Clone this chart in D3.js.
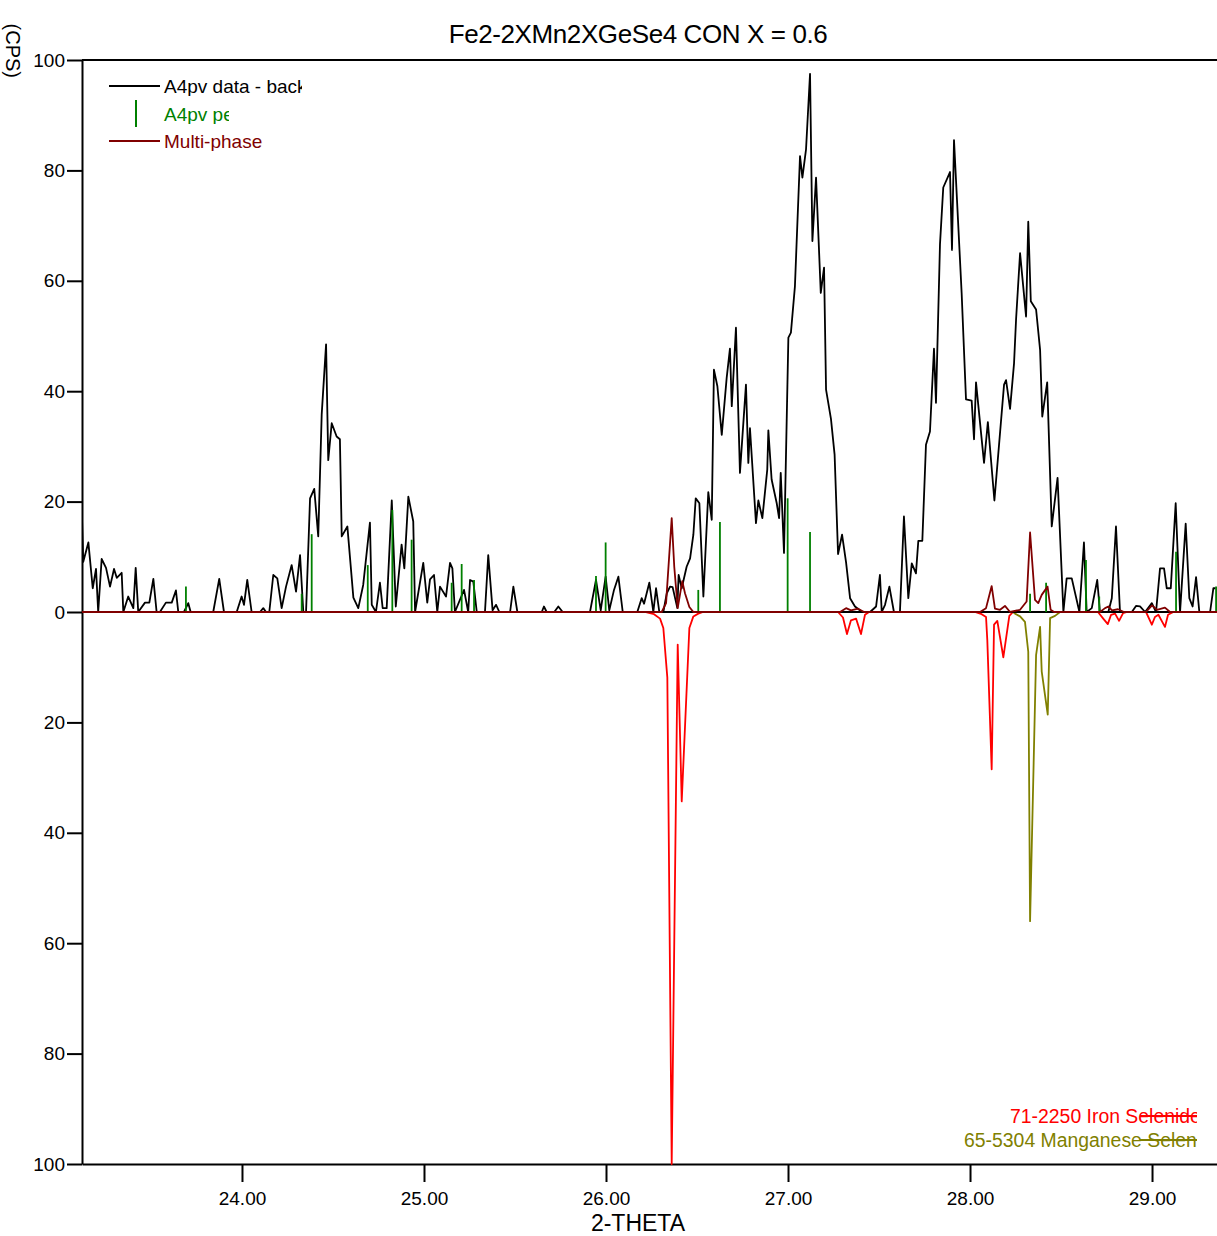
<!DOCTYPE html>
<html>
<head>
<meta charset="utf-8">
<script src="https://cdn.jsdelivr.net/npm/d3@7/dist/d3.min.js"></script>
<style>
  body { margin: 0; background: #fff; }
  svg { display: block; font-family: "Liberation Sans", Arial, sans-serif; }
</style>
</head>
<body>
<div id="chart"></div>
<script>
// measured pattern: A4pv data - background
const dataTheta = [23.121,23.128,23.156,23.180,23.198,23.210,23.229,23.253,23.275,23.297,23.312,23.339,23.348,23.375,23.403,23.416,23.430,23.467,23.491,23.513,23.531,23.549,23.582,23.614,23.637,23.650,23.681,23.705,23.718,23.842,23.875,23.901,23.971,23.998,24.011,24.029,24.053,24.099,24.117,24.132,24.150,24.172,24.194,24.218,24.242,24.273,24.297,24.319,24.337,24.352,24.374,24.397,24.419,24.438,24.462,24.474,24.493,24.520,24.538,24.548,24.579,24.612,24.639,24.666,24.703,24.713,24.736,24.758,24.773,24.795,24.823,24.845,24.877,24.892,24.914,24.941,24.951,24.996,25.018,25.033,25.055,25.073,25.088,25.121,25.143,25.156,25.170,25.220,25.243,25.253,25.271,25.290,25.335,25.353,25.377,25.396,25.414,25.473,25.491,25.513,25.647,25.659,25.674,25.716,25.738,25.762,25.912,25.945,25.971,25.998,26.018,26.044,26.068,26.092,26.172,26.196,26.209,26.238,26.260,26.275,26.293,26.315,26.334,26.352,26.366,26.392,26.399,26.416,26.443,26.462,26.480,26.493,26.513,26.535,26.562,26.581,26.593,26.612,26.636,26.663,26.681,26.691,26.714,26.736,26.769,26.782,26.791,26.824,26.837,26.859,26.886,26.892,26.910,26.938,26.951,26.960,26.978,27.002,27.016,27.038,27.066,27.079,27.099,27.121,27.134,27.154,27.180,27.198,27.209,27.236,27.256,27.275,27.297,27.319,27.341,27.368,27.407,27.451,27.484,27.505,27.515,27.533,27.557,27.582,27.615,27.637,27.661,27.680,27.703,27.716,27.738,27.758,27.780,27.802,27.813,27.835,27.853,27.890,27.901,27.912,27.954,27.978,28.009,28.022,28.033,28.077,28.098,28.134,28.187,28.198,28.220,28.242,28.253,28.275,28.308,28.320,28.334,28.363,28.385,28.397,28.424,28.449,28.481,28.513,28.531,28.559,28.601,28.626,28.641,28.669,28.699,28.714,28.760,28.779,28.802,28.824,28.889,28.912,28.934,28.962,28.999,29.022,29.044,29.066,29.081,29.103,29.130,29.154,29.185,29.205,29.223,29.242,29.260,29.319,29.337,29.349,29.368];
const dataCounts = [17,9.1,12.6,4.3,7.8,0,9.6,8,4.6,7.8,6.2,7.1,0,2.8,0.7,8,0,1.7,1.7,6,0,0,1.7,1.7,3.9,0,0,1.6,0,0,6,0,0,2.8,1.3,5.8,0,0,0.7,0,0,6.7,6.1,0.7,4.6,8.5,3.7,10.3,0,0,20.6,22.3,13.7,35.8,48.5,27.5,34.2,31.8,31.3,13.7,15.5,2.6,0.7,4.9,16.2,1.3,0,5.3,0.7,0.7,20.2,1,12.2,7.9,20.9,16.4,0,8.9,1.7,5.9,6.7,0,4.6,2.8,8.9,7.9,0,4,0,5.8,5.5,0,0,10.3,0.3,1.3,0,0,4.6,0,0,1,0,0,1,0,0,5.8,0.3,6.4,0.3,4,6.4,0,0,2.5,1.5,5.3,0,4.3,0,0,3.4,4.6,4.5,0.7,6.7,4.3,8.2,9.7,14,20.6,19.7,2.8,21.7,16.7,43.9,40.9,32.1,42.4,47.7,37.3,51.5,25.2,41.2,27,33.3,16.1,20.2,17,25.8,32.9,24,19.7,17,25.2,10.7,49.7,50.6,59,82.6,78.7,83.8,97.5,67.2,78.7,57.8,62.4,40.3,35,28.5,10.5,14,9,2.5,1,0,0,1,6.7,0,1.3,4.6,0,0,17.3,2.5,8.8,7,12.9,12.9,30.3,32.7,47.7,37.9,66.6,76.9,79.7,65.6,85.5,57.8,38.5,38.3,31.3,41.6,27,34.4,20.2,41.2,42,36.8,45.1,53,65,53.5,70.7,56.3,54.8,47.5,35.4,41.6,15.5,24.3,0,6.1,6.1,0,12.6,0,0.7,5.8,0,0,2.5,15.5,0,0,1.1,1,0,1.6,0,7.9,7.9,4.3,4.3,19.7,0,16,2.5,1,6.3,0,0,4.3,4.3];

// A4pv peak positions (sticks)
const stickTheta = [23.692,24.328,24.383,24.691,24.826,24.932,25.152,25.207,25.275,25.945,25.998,26.507,26.626,26.998,27.121,28.330,28.418,28.637,28.710,29.132,29.352];
const stickHeight = [4.6,3.3,14.1,8.5,18.5,13.1,5.3,8.7,5.8,6.5,12.6,4,16.3,20.6,14.5,3.3,5.3,9.4,2.8,10.9,4.6];

// multi-phase fit
const multiTheta = [23.121,26.306,26.330,26.361,26.375,26.394,26.419,26.434,26.458,26.480,27.286,27.319,27.346,27.385,27.418,28.055,28.088,28.119,28.137,28.165,28.192,28.220,28.275,28.311,28.330,28.357,28.375,28.394,28.426,28.443,28.462,28.714,28.742,28.760,28.780,28.813,28.846,28.967,29.000,29.027,29.071,29.099,29.360];
const multiCounts = [0,0,1.6,17,8.2,0.7,5.6,3.4,0.9,0,0,0.7,0.3,0.6,0,0,0.7,4.7,0.6,0.4,1.1,0,0.4,1.9,14.4,2.2,1.6,3.1,4.6,0.4,0,0,0.7,1,0.3,0.5,0,0,1.2,0.4,0.8,0,0];

// 71-2250 Iron Selenide (drawn downward)
const ironTheta = [23.121,26.214,26.264,26.297,26.315,26.337,26.361,26.394,26.416,26.458,26.480,26.507,26.533,27.275,27.302,27.324,27.346,27.374,27.401,27.423,27.445,28.027,28.064,28.088,28.095,28.119,28.132,28.150,28.183,28.216,28.236,28.703,28.732,28.757,28.775,28.797,28.819,28.841,28.863,28.967,28.999,29.016,29.035,29.071,29.088,29.117,29.360];
const ironCounts = [0,0,0.4,1.2,2.9,11.9,100,5.9,34.3,2.9,0.8,0.3,0,0,1,4,1.5,1.2,4,0.5,0,0,0.4,0.9,5.1,28.5,2.3,1.6,8.2,0.7,0,0,1.2,2.2,0.5,0.3,1.6,0.2,0,0,2.3,0.9,0.5,2.7,0.5,0,0];

// 65-5304 Manganese Selenide (drawn downward)
const mnTheta = [28.236,28.247,28.275,28.302,28.320,28.330,28.363,28.385,28.394,28.427,28.440,28.467,28.495];
const mnCounts = [0,0.3,0.8,1.8,7.2,56,7.8,2.7,10.8,18.6,1.1,0.7,0];

const xTicks = [24, 25, 26, 27, 28, 29];
const yTicks = [-100, -80, -60, -40, -20, 0, 20, 40, 60, 80, 100];

const width = 1217, height = 1236;
const plot = {left: 82, right: 1217, top: 60, bottom: 1164};

const svg = d3.select("#chart").append("svg")
    .attr("width", width)
    .attr("height", height);

const x = d3.scaleLinear()
    .domain([23.121, 29.357])
    .range([plot.left, plot.right]);

const y = d3.scaleLinear()
    .domain([-100, 100])
    .range([plot.bottom, plot.top]);

const defs = svg.append("defs");
defs.append("clipPath").attr("id", "plot-clip")
    .append("rect")
    .attr("x", plot.left).attr("y", plot.top - 2)
    .attr("width", plot.right - plot.left).attr("height", plot.bottom - plot.top + 4);

// title
svg.append("text")
    .attr("x", 638)
    .attr("y", 43)
    .attr("text-anchor", "middle")
    .style("font-size", "26px")
    .style("letter-spacing", "-0.4px")
    .text("Fe2-2XMn2XGeSe4 CON X = 0.6");

// y axis title, squeezed into the top-left corner
svg.append("text")
    .attr("transform", "translate(6,0) rotate(90)")
    .attr("x", 78)
    .attr("y", 0)
    .attr("text-anchor", "end")
    .style("font-size", "20px")
    .text("(CPS)");

// axes
const yAxis = svg.append("g")
    .attr("transform", `translate(${plot.left},0)`)
    .call(d3.axisLeft(y).tickValues(yTicks).tickFormat(d => Math.abs(d)).tickSize(15).tickPadding(2).tickSizeOuter(0));

const xAxis = svg.append("g")
    .attr("transform", `translate(0,${plot.bottom})`)
    .call(d3.axisBottom(x).tickValues(xTicks).tickFormat(d3.format(".2f")).tickSize(18).tickPadding(10).tickSizeOuter(0));

[yAxis, xAxis].forEach(g => {
    g.select(".domain").attr("stroke", "#000").attr("stroke-width", 2);
    g.selectAll(".tick line").attr("stroke", "#000").attr("stroke-width", 2);
    g.selectAll(".tick text")
        .attr("fill", "#000")
        .style("font-family", "'Liberation Sans', Arial, sans-serif")
        .style("font-size", "19px");
});

// top frame line
svg.append("line")
    .attr("x1", plot.left).attr("x2", plot.right)
    .attr("y1", y(100)).attr("y2", y(100))
    .attr("stroke", "#000").attr("stroke-width", 2);

// x axis title
svg.append("text")
    .attr("x", 638)
    .attr("y", 1231)
    .attr("text-anchor", "middle")
    .style("font-size", "23px")
    .text("2-THETA");

const g = svg.append("g").attr("clip-path", "url(#plot-clip)");

const toPoints = (xs, ys, sign) => xs.map((t, i) => [t, sign * ys[i]]);
const line = d3.line().x(d => x(d[0])).y(d => y(d[1]));

// reference patterns below the axis
g.append("path")
    .datum(toPoints(ironTheta, ironCounts, -1))
    .attr("fill", "none")
    .attr("stroke", "#ff0000")
    .attr("stroke-width", 1.8)
    .attr("stroke-linejoin", "round")
    .attr("d", line);

g.append("path")
    .datum(toPoints(mnTheta, mnCounts, -1))
    .attr("fill", "none")
    .attr("stroke", "#808000")
    .attr("stroke-width", 1.8)
    .attr("stroke-linejoin", "round")
    .attr("d", line);

// zero line
g.append("line")
    .attr("x1", plot.left).attr("x2", plot.right)
    .attr("y1", y(0)).attr("y2", y(0))
    .attr("stroke", "#000").attr("stroke-width", 2);

// measured data
g.append("path")
    .datum(toPoints(dataTheta, dataCounts, 1))
    .attr("fill", "none")
    .attr("stroke", "#000")
    .attr("stroke-width", 1.8)
    .attr("stroke-linejoin", "round")
    .attr("d", line);

// peak sticks
g.selectAll(".stick")
    .data(stickTheta.map((t, i) => [t, stickHeight[i]]))
    .enter()
    .append("line")
    .attr("class", "stick")
    .attr("x1", d => x(d[0])).attr("x2", d => x(d[0]))
    .attr("y1", y(0)).attr("y2", d => y(d[1]))
    .attr("stroke", "#008000")
    .attr("stroke-width", 1.8);

// multi-phase
g.append("path")
    .datum(toPoints(multiTheta, multiCounts, 1))
    .attr("fill", "none")
    .attr("stroke", "#800000")
    .attr("stroke-width", 1.8)
    .attr("stroke-linejoin", "round")
    .attr("d", line);

// legend, top left
const legend = [
    {label: "A4pv data - background", color: "#000", type: "line", y: 86, clip: 302},
    {label: "A4pv peaks", color: "#008000", type: "stick", y: 114, clip: 229},
    {label: "Multi-phase", color: "#800000", type: "line", y: 141, clip: 400}
];

legend.forEach((d, i) => {
    if (d.type === "line") {
        svg.append("line")
            .attr("x1", 109).attr("x2", 160)
            .attr("y1", d.y).attr("y2", d.y)
            .attr("stroke", d.color).attr("stroke-width", 2);
    } else {
        svg.append("line")
            .attr("x1", 136).attr("x2", 136)
            .attr("y1", d.y - 14).attr("y2", d.y + 13)
            .attr("stroke", d.color).attr("stroke-width", 2);
    }
    defs.append("clipPath").attr("id", `leg-clip-${i}`)
        .append("rect").attr("x", 160).attr("y", d.y - 20).attr("width", d.clip - 160).attr("height", 30);
    svg.append("text")
        .attr("clip-path", `url(#leg-clip-${i})`)
        .attr("x", 164)
        .attr("y", d.y + 7)
        .attr("fill", d.color)
        .style("font-size", "19px")
        .text(d.label);
});

// legend, bottom right
const refLegend = [
    {label: "71-2250 Iron Selenide", color: "#ff0000", x: 1010, y: 1116},
    {label: "65-5304 Manganese Selenide", color: "#808000", x: 964, y: 1140}
];

defs.append("clipPath").attr("id", "ref-clip")
    .append("rect").attr("x", 900).attr("y", 1095).attr("width", 297).attr("height", 60);

const refG = svg.append("g").attr("clip-path", "url(#ref-clip)");
refLegend.forEach(d => {
    refG.append("text")
        .attr("x", d.x)
        .attr("y", d.y + 7)
        .attr("fill", d.color)
        .style("font-size", "19.4px")
        .text(d.label);
    refG.append("line")
        .attr("x1", 1140).attr("x2", 1197)
        .attr("y1", d.y).attr("y2", d.y)
        .attr("stroke", d.color).attr("stroke-width", 2);
});
</script>
</body>
</html>
